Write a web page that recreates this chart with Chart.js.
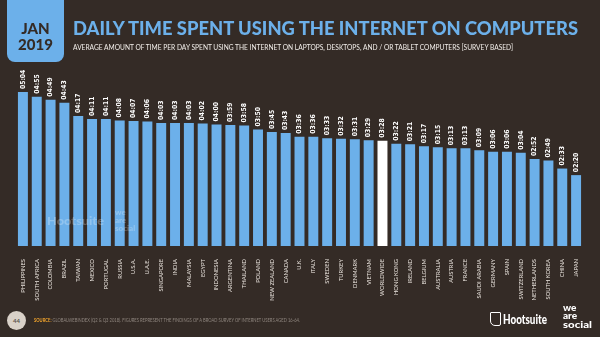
<!DOCTYPE html>
<html>
<head>
<meta charset="utf-8">
<script src="https://cdn.jsdelivr.net/npm/chart.js@4.4.0/dist/chart.umd.min.js"></script>
<style>
  html, body { margin: 0; padding: 0; background: #342b26; }
  body { width: 600px; height: 337px; position: relative; overflow: hidden; font-family: Lato, "Open Sans", sans-serif; }
  #chart { position: absolute; left: 0; top: 0; }
  .abs { position: absolute; white-space: nowrap; transform-origin: 0 0; }
  #datebox { position: absolute; left: 7px; top: -8px; width: 57px; height: 70px; background: #6cb0ea; border-radius: 8px; }
  .date { color: #342b26; font-weight: 900; font-size: 15px; text-align: center; width: 57px; left: 7px; line-height: 15px; }
  #title { left: 73px; top: 16px; color: #6cb0ea; font-weight: 900; font-size: 19px; }
  #subtitle { left: 73px; top: 42px; color: #f2eeea; font-size: 8px; }
  #pagenum { position: absolute; left: 7px; top: 311px; width: 19px; height: 19px; border-radius: 50%; background: #d9d1c8; color: #5a514b; font-size: 6px; font-weight: 700; text-align: center; line-height: 19px; }
  #source { left: 34px; top: 317px; font-size: 5px; color: #8f867f; }
  #source b { color: #f3a52c; }
  #hoot { left: 503px; top: 311px; color: #fff; font-weight: 900; font-size: 13px; }
  #owl { position: absolute; left: 490px; top: 312px; width: 9px; height: 12px; border: 1.5px solid #fff; border-radius: 1px 1px 2px 5px; }
  .was { left: 563px; color: #fff; font-weight: 900; font-size: 10px; line-height: 9px; }
  .wm { color: rgba(255,255,255,0.25); font-weight: 900; }
</style>
</head>
<body>
<canvas id="chart" width="600" height="337"></canvas>

<div id="datebox"></div>
<div class="abs date" style="top:21px">JAN</div>
<div class="abs date" style="top:37px">2019</div>
<div class="abs" id="title" data-w="505">DAILY TIME SPENT USING THE INTERNET ON COMPUTERS</div>
<div class="abs" id="subtitle" data-w="440">AVERAGE AMOUNT OF TIME PER DAY SPENT USING THE INTERNET ON LAPTOPS, DESKTOPS, AND / OR TABLET COMPUTERS [SURVEY BASED]</div>

<!-- faint watermark over the bars -->
<div class="abs wm" style="left:47px;top:213px;font-size:12px" data-w="57">Hootsuite</div>
<div class="abs wm" style="left:115px;top:208px;font-size:8px;line-height:8px">we<br>are<br>social</div>

<div id="pagenum">44</div>
<div class="abs" id="source" data-w="266"><b>SOURCE:</b> GLOBALWEBINDEX (Q2 &amp; Q3 2018). FIGURES REPRESENT THE FINDINGS OF A BROAD SURVEY OF INTERNET USERS AGED 16-64.</div>
<div id="owl"></div>
<div class="abs" id="hoot" data-w="44">Hootsuite</div>
<div class="abs was" style="top:303px">we</div>
<div class="abs was" style="top:311px">are</div>
<div class="abs was" style="top:320px" data-w="29">social</div>

<script>
const countries = ['PHILIPPINES', 'SOUTH AFRICA', 'COLOMBIA', 'BRAZIL', 'TAIWAN', 'MEXICO', 'PORTUGAL',
  'RUSSIA', 'U.S.A.', 'U.A.E.', 'SINGAPORE', 'INDIA', 'MALAYSIA', 'EGYPT', 'INDONESIA', 'ARGENTINA',
  'THAILAND', 'POLAND', 'NEW ZEALAND', 'CANADA', 'U.K.', 'ITALY', 'SWEDEN', 'TURKEY', 'DENMARK',
  'VIETNAM', 'WORLDWIDE', 'HONG KONG', 'IRELAND', 'BELGIUM', 'AUSTRALIA', 'AUSTRIA', 'FRANCE',
  'SAUDI ARABIA', 'GERMANY', 'SPAIN', 'SWITZERLAND', 'NETHERLANDS', 'SOUTH KOREA', 'CHINA', 'JAPAN']

// minutes per day
const minutes = [304, 295, 289, 283, 257, 251, 251, 248, 247, 246, 243, 243, 243, 242, 240, 239,
  238, 230, 225, 223, 216, 216, 213, 212, 211, 209, 208, 202, 201, 197, 195, 193, 193,
  189, 186, 186, 184, 172, 169, 153, 140]

const highlight = 'WORLDWIDE'

// squeeze the html texts to the widths they have in the picture
document.querySelectorAll('[data-w]').forEach(el => {
  let w = el.getBoundingClientRect().width
  el.style.transform = 'scaleX(' + (parseFloat(el.dataset.w) / w) + ')'
})

function hhmm(m) {
  let h = Math.floor(m / 60), r = m % 60
  return String(h).padStart(2, '0') + ':' + String(r).padStart(2, '0')
}

// value labels above each bar, turned upright
const valueLabels = {
  id: 'valueLabels',
  afterDatasetsDraw(chart) {
    let ctx = chart.ctx
    let meta = chart.getDatasetMeta(0)
    ctx.save()
    ctx.fillStyle = '#ffffff'
    ctx.font = 'bold 6.8px "Liberation Sans Narrow", "DejaVu Sans Condensed", Lato, sans-serif'
    ctx.textAlign = 'left'
    ctx.textBaseline = 'middle'
    meta.data.forEach((bar, i) => {
      ctx.save()
      ctx.translate(bar.x, bar.y - 3)
      ctx.rotate(-Math.PI / 2)
      ctx.fillText(hhmm(minutes[i]), 0, 0)
      ctx.restore()
    })
    ctx.restore()
  }
}

new Chart(document.getElementById('chart'), {
  type: 'bar',
  data: {
    labels: countries,
    datasets: [{
      data: minutes,
      backgroundColor: countries.map(c => c === highlight ? '#ffffff' : '#6cb0ea'),
      borderWidth: 0,
      barPercentage: 0.72,
      categoryPercentage: 1
    }]
  },
  options: {
    responsive: false,
    animation: false,
    layout: { padding: { left: 16, right: 17, top: 84, bottom: 0 } },
    plugins: { legend: { display: false }, tooltip: { enabled: false } },
    scales: {
      y: { display: false, min: 0, max: 320 },
      x: {
        grid: { display: false },
        border: { display: false },
        ticks: {
          color: '#e8e2dc',
          font: { size: 5.8, family: 'Lato, "Open Sans", sans-serif' },
          minRotation: 90,
          maxRotation: 90,
          autoSkip: false,
          padding: 5
        },
        afterFit(scale) { scale.height = 91 }
      }
    }
  },
  plugins: [valueLabels]
})
</script>
</body>
</html>
